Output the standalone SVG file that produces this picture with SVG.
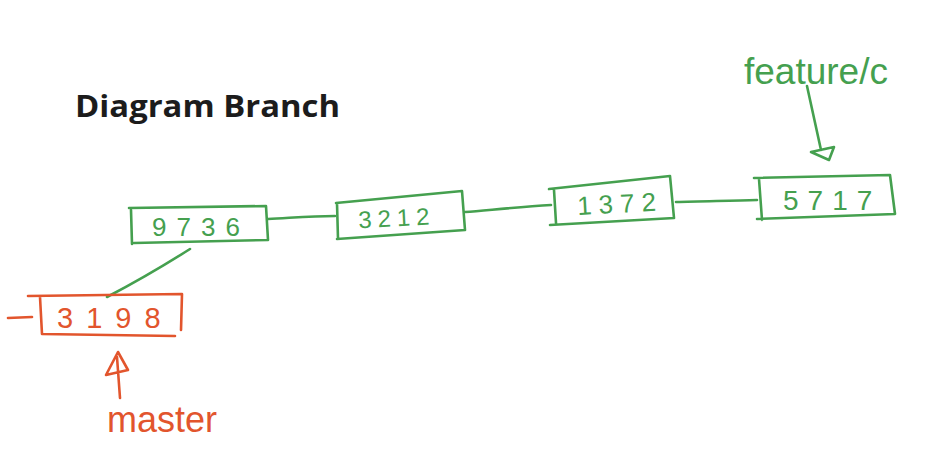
<svg xmlns="http://www.w3.org/2000/svg" width="928" height="450" viewBox="0 0 928 450">
<defs>
<style>
.g{fill:none;stroke:#45a04f;stroke-width:2.6;stroke-linecap:round;stroke-linejoin:round}
.o{fill:none;stroke:#e2552d;stroke-width:2.6;stroke-linecap:round;stroke-linejoin:round}
.gt{fill:#45a04f;font-family:"Liberation Sans","DejaVu Sans",sans-serif}
.ot{fill:#e2552d;font-family:"Liberation Sans","DejaVu Sans",sans-serif}
.title{fill:#1c1c1c;font-family:"Open Sans",Lato,sans-serif;font-weight:bold;font-size:30px}
</style>
</defs>
<rect width="928" height="450" fill="#ffffff"/>
<text class="title" x="75" y="117" textLength="265" lengthAdjust="spacingAndGlyphs">Diagram Branch</text>
<g id="connectors">
<path class="g" d="M268,219 C290,218 310,216 335,216"/>
<path class="g" d="M465,212 C490,210 520,207 551,205"/>
<path class="g" d="M676,202 C700,201 730,201 757,200"/>
<path class="g" d="M190,249 C160,268 130,285 107,297"/>
<path class="o" d="M8,318 L32,317"/>
</g>
<g id="node-9736">
<path class="g" d="M129,208 L266,206 L268,240 L134,243 M131,210 L132,244"/>
<text class="gt" x="152" y="236" font-size="26" letter-spacing="10">9736</text>
</g>
<g id="node-3198">
<path class="o" d="M28,296 L182,294 L181,330 M40,297 L42,334 L175,336"/>
<text class="ot" x="57" y="328" font-size="29" letter-spacing="13">3198</text>
</g>
<g id="node-3212">
<path class="g" d="M336,203 L462,191 L465,230 L337,239 M337,203 L338,239"/>
<text class="gt" x="358" y="226" font-size="24" letter-spacing="6" transform="rotate(-3 400 215)">3212</text>
</g>
<g id="node-1372">
<path class="g" d="M549,189 L670,176 L674,218 L550,225 M554,190 L556,223"/>
<text class="gt" x="577" y="213" font-size="26" letter-spacing="7" transform="rotate(-3 615 202)">1372</text>
</g>
<g id="node-5717">
<path class="g" d="M754,178 L890,175 L895,214 L757,219 M759,179 L762,220"/>
<text class="gt" x="783" y="210" font-size="28" letter-spacing="9">5717</text>
</g>
<g id="label-feature">
<text class="gt" x="744" y="84" font-size="37">feature/c</text>
<path class="g" d="M807,86 L821,150 M811,152 L834,147 L829,160 Z"/>
</g>
<g id="label-master">
<text class="ot" x="107" y="432" font-size="36">master</text>
<path class="o" d="M120,398 L117,357 M106,375 L118,352 L128,370 Z"/>
</g>
</svg>
